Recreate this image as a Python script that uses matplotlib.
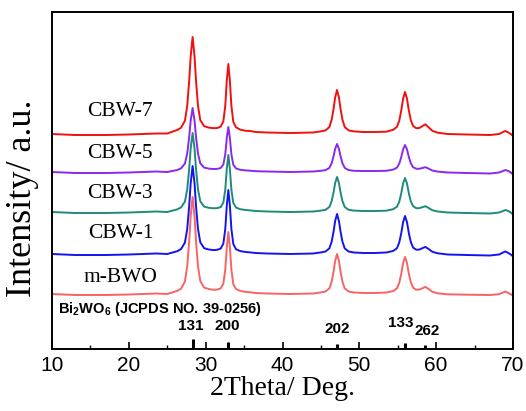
import matplotlib
matplotlib.use("Agg")
import matplotlib.pyplot as plt
from matplotlib.ticker import MultipleLocator

# ---------------- data ----------------
two_theta = [10, 13, 17, 20, 23.6, 25.0, 26.3, 26.8, 27.3, 27.6,
             27.85, 28.05, 28.3, 28.55, 28.75, 29.0, 29.3, 29.8, 30.4, 31.0,
             31.5, 31.95, 32.3, 32.55, 32.75, 32.95, 33.15, 33.35, 33.6, 33.95,
             34.5, 35.2, 35.8, 36.5, 38, 41, 44, 45.1, 45.6, 46.1,
             46.4, 46.65, 46.85, 47.1, 47.35, 47.55, 47.8, 48.1, 48.6, 49.3,
             50.5, 52, 53.5, 54.4, 54.9, 55.2, 55.45, 55.7, 55.95, 56.2,
             56.45, 56.7, 57.0, 57.4, 57.8, 58.2, 58.6, 59.0, 59.5, 60.2,
             61.5, 64, 67, 68.2, 68.7, 69.0, 69.4, 69.8, 70]

m_bwo = [1, 0, 0, 0.5, 1.5, 1, 4.1, 6.4, 13.4, 28.7,
         53.4, 79, 98, 79, 53.4, 28.7, 13.9, 7.4, 6, 5.2,
         5.4, 6.6, 11.3, 25.2, 48, 63, 48, 25.2, 10.8, 5.9,
         4.1, 3.1, 2.7, 2, 1.5, 1, 1.5, 2.7, 3.5, 6.6,
         13.4, 23.6, 33.9, 41, 33.9, 23.6, 13.4, 6.6, 3.5, 2.5,
         2, 2, 2.5, 3.9, 6.7, 12.3, 21.1, 32, 38, 32,
         21.1, 12.7, 7.3, 5.3, 5.4, 6.7, 8.1, 6.1, 3.2, 1.7,
         0.7, 0.3, 0, 0.8, 2.5, 3.5, 2, 0.5, -1]

cbw_1 = [1, 0, 0, 0.5, 1.5, 1, 3.8, 6, 12.4, 26.1,
         48.5, 71.8, 89, 71.8, 48.5, 26.1, 12.7, 6.8, 5.5, 4.9,
         5.2, 6.4, 11.3, 25.8, 49.5, 65, 49.5, 25.8, 10.9, 5.8,
         3.9, 3, 2.6, 2, 1.5, 1, 1.5, 2.7, 3.5, 6.6,
         13.4, 23.6, 33.9, 41, 33.9, 23.6, 13.4, 6.6, 3.5, 2.5,
         2, 2, 2.5, 4, 6.8, 12.6, 21.6, 32.9, 39, 32.9,
         21.6, 13, 7.4, 5.3, 5.4, 6.8, 8.1, 6.1, 3.2, 1.7,
         0.5, 0, -0.5, 0.5, 2.5, 3.5, 2, 0, -1.5]

cbw_3 = [1, 0, 0, 0.5, 1.5, 1, 3.6, 5.6, 11.4, 23.6,
         43.7, 64.6, 80, 64.6, 43.7, 23.6, 11.7, 6.4, 5.2, 4.7,
         4.9, 5.9, 10.4, 23.2, 44.2, 58, 44.2, 23.2, 10, 5.4,
         3.8, 3, 2.6, 2, 1.5, 1, 1.5, 2.5, 3.2, 6,
         11.9, 20.8, 29.8, 36, 29.8, 20.8, 11.9, 6, 3.2, 2.4,
         2, 2, 2.3, 3.8, 6.3, 11.4, 19.5, 29.6, 35, 29.6,
         19.5, 11.7, 6.8, 4.8, 4.8, 5.8, 6.8, 5.1, 2.8, 1.5,
         0.5, 0, -0.5, 0.5, 2, 3, 2, 0, -1.5]

cbw_5 = [1, 0, 0, 0.5, 1.5, 1, 3, 4.7, 9.4, 19.4,
         35.6, 52.5, 65, 52.5, 35.6, 19.4, 9.7, 5.4, 4.4, 4,
         4.1, 5, 8.5, 18.6, 35.1, 46, 35.1, 18.6, 8.2, 4.6,
         3.2, 2.6, 2.3, 1.8, 1.5, 1, 1.5, 2.3, 2.9, 5.1,
         9.8, 16.9, 24.1, 29, 24.1, 16.9, 9.8, 5.1, 2.9, 2.2,
         2, 2, 2.2, 3.4, 5.4, 9.4, 15.8, 23.7, 28, 23.7,
         15.8, 9.7, 5.8, 4.3, 4.2, 5, 5.8, 4.4, 2.5, 1.4,
         0.5, 0, -0.5, 0.5, 2, 3, 2, 0, -1.5]

cbw_7 = [1, 0, 0, 0.5, 1.5, 1.5, 5, 7.3, 14.3, 29.2,
         53.6, 78.8, 98, 78.8, 53.6, 29.2, 14.8, 8.8, 7.4, 6.8,
         7, 8.4, 13.6, 29.1, 54.4, 71, 54.4, 29.1, 13.1, 7.7,
         5.4, 4.2, 4, 3, 2.5, 2, 2.5, 3.8, 4.6, 8,
         15.3, 26.3, 37.4, 45, 37.4, 26.3, 15.3, 8, 4.6, 3.6,
         3, 3, 3.3, 5.2, 8.2, 14.4, 24.2, 36.4, 43, 36.4,
         24.2, 14.9, 9, 6.8, 7, 8.8, 10.7, 7.8, 4.2, 2.3,
         1, 0.5, 0, 1, 3, 4, 2.5, 0.5, -1]

sample_names = ["m-BWO", "CBW-1", "CBW-3", "CBW-5", "CBW-7"]
sample_series = [m_bwo, cbw_1, cbw_3, cbw_5, cbw_7]
sample_offsets = [54, 94, 136, 176, 214]
label_y = [72, 116, 156, 195, 237]
sample_colors = ["#f86464", "#1414f0", "#1e8a7c", "#8a28ee", "#f01010"]

ref_positions = [28.3, 32.95, 47.1, 55.9, 58.6]
ref_heights = [10, 7, 5, 6, 4]
ref_labels = ["131", "200", "202", "133", "262"]
ref_label_x = [28.1, 32.8, 47.1, 55.4, 58.8]
ref_label_y = [23, 23, 20, 26, 18]

# ---------------- figure ----------------
plt.rcParams["mathtext.fontset"] = "custom"
plt.rcParams["mathtext.rm"] = "Liberation Sans:bold"
plt.rcParams["mathtext.it"] = "Liberation Sans:bold"
plt.rcParams["mathtext.bf"] = "Liberation Sans:bold"

SERIF = ["Liberation Serif", "DejaVu Serif"]
SANS = ["Liberation Sans", "DejaVu Sans"]

fig = plt.figure(figsize=(5.26, 4.11), dpi=100)
ax = fig.add_axes([52 / 526, 1 - 349 / 411, (513 - 52) / 526, (349 - 12) / 411])

for name, ys, off, col in zip(sample_names, sample_series, sample_offsets, sample_colors):
    ax.plot(two_theta, [v + off for v in ys], color=col, lw=1.4, solid_joinstyle="round")

for name, ly in zip(sample_names, label_y):
    ax.text(18.9, ly, name, ha="center", va="center", fontsize=15.5, family=SERIF)

ax.vlines(ref_positions, 0, ref_heights, colors="black", lw=2.2)
for lab, lx, lyy in zip(ref_labels, ref_label_x, ref_label_y):
    ax.text(lx, lyy, lab, ha="center", va="center", fontsize=11, fontweight="bold",
            family=SANS)

ax.text(10.8, 40, r"Bi$_2$WO$_6$ (JCPDS NO. 39-0256)", ha="left", va="center",
        fontsize=10.5, fontweight="bold", family=SANS)

ax.set_xlim(10, 70)
ax.set_ylim(0, 337)
ax.xaxis.set_major_locator(MultipleLocator(10))
ax.xaxis.set_minor_locator(MultipleLocator(5))
ax.tick_params(axis="x", which="major", direction="in", length=5, width=1.2,
               labelsize=15, pad=5)
ax.tick_params(axis="x", which="minor", direction="in", length=3, width=1.0)
ax.tick_params(axis="y", left=False, labelleft=False)
for lab in ax.get_xticklabels():
    lab.set_family(SANS)
for sp in ax.spines.values():
    sp.set_linewidth(1.4)

ax.set_xlabel("2Theta/ Deg.", fontsize=20, family=SERIF, labelpad=1)
ax.set_ylabel("Intensity/ a.u.", fontsize=26, family=SERIF)
ax.yaxis.set_label_coords(-0.028, 0.447)

fig.savefig("out.png", dpi=100)
